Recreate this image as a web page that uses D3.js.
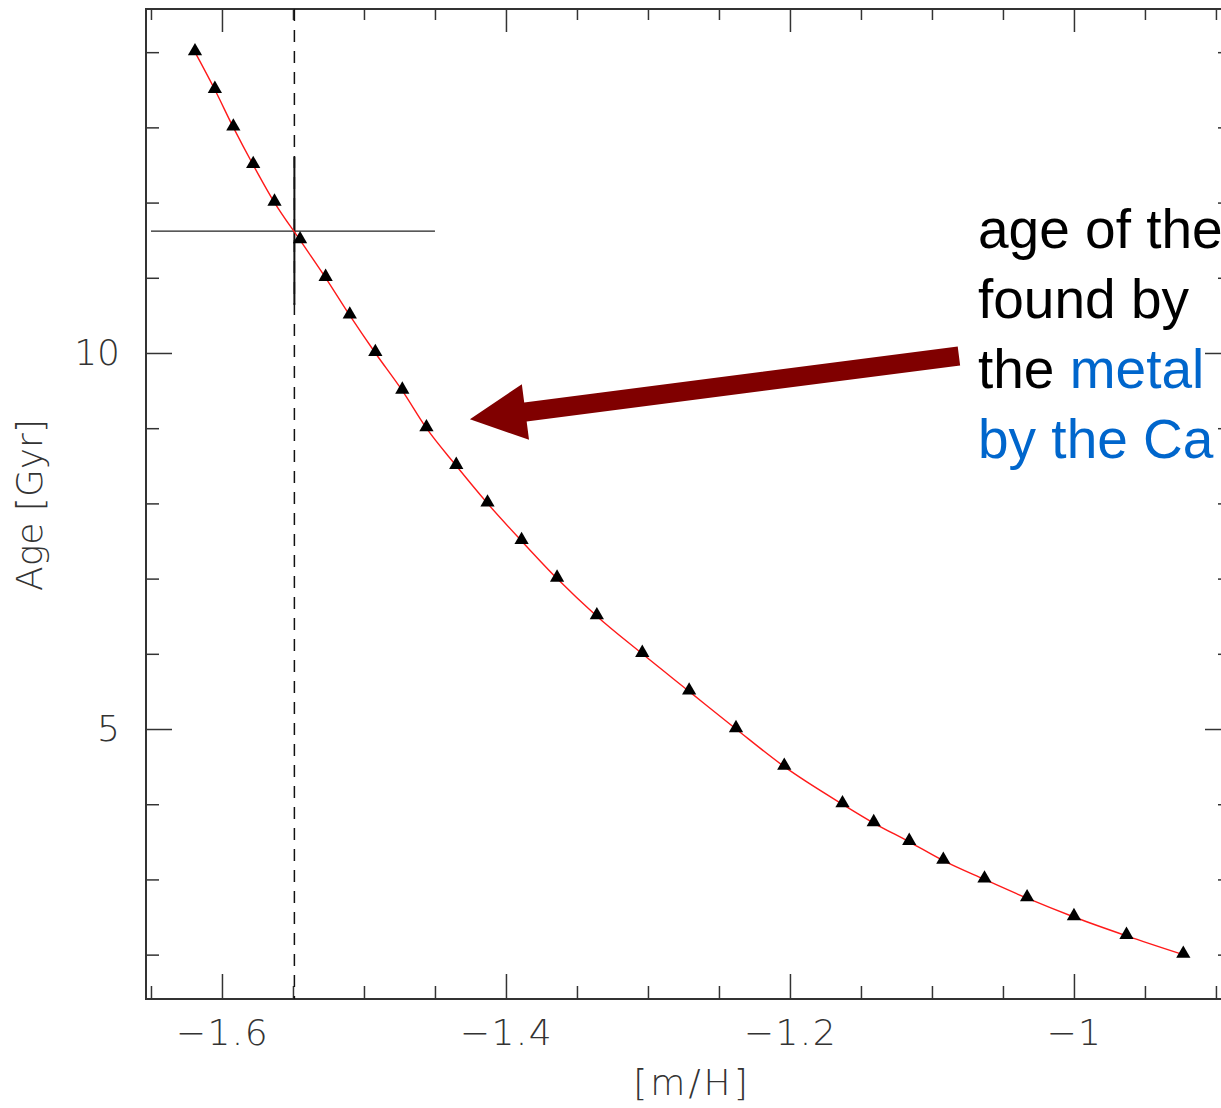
<!DOCTYPE html>
<html>
<head>
<meta charset="utf-8">
<script src="https://cdn.jsdelivr.net/npm/d3@7"></script>
<style>
  html, body { margin: 0; padding: 0; background: #fff; }
  svg { display: block; }
  .axis-text { font-family: "DejaVu Sans", sans-serif; font-weight: 200; fill: #333; }
  .note { font-family: "Liberation Sans", Arial, sans-serif; font-size: 55px; }
</style>
</head>
<body>
<div id="chart"></div>
<script>
// age grid of the isochrone fit and the matching metallicity
const AGES = [14, 13.5, 13, 12.5, 12, 11.5, 11, 10.5, 10, 9.5, 9, 8.5, 8, 7.5, 7, 6.5, 6, 5.5, 5, 4.5,
  4, 3.75, 3.5, 3.25, 3, 2.75, 2.5, 2.25, 2];
const METALLICITY = [-1.619, -1.605, -1.592, -1.578, -1.563, -1.545, -1.527, -1.51, -1.492, -1.473,
  -1.456, -1.435, -1.413, -1.389, -1.364, -1.336, -1.304, -1.271, -1.238, -1.204,
  -1.163, -1.141, -1.116, -1.092, -1.063, -1.033, -1.0, -0.963, -0.923];

const X_MAJOR = [-1.6, -1.4, -1.2, -1];
const X_MINOR = [-1.65, -1.55, -1.5, -1.45, -1.35, -1.3, -1.25, -1.15, -1.1, -1.05, -0.95, -0.9];
const Y_MAJOR = [5, 10];
const Y_MINOR = [2, 3, 4, 6, 7, 8, 9, 11, 12, 13, 14];

// metallicity measured from the CaT and the resulting age
const FIT_MH = -1.549;
const FIT_MH_RANGE = [-1.65, -1.45];
const FIT_AGE = 11.62;
const FIT_AGE_RANGE = [10.64, 12.61];

const ARROW_FROM = [-1.081, 9.96];
const ARROW_TO = [-1.4254, 9.12];

// the slide crops the note at the right edge; only the visible part is kept
const NOTE_LINES = [
  [{ text: "age of the", color: "#000" }],
  [{ text: "found by", color: "#000" }],
  [{ text: "the ", color: "#000" }, { text: "metal", color: "#0066cc" }],
  [{ text: "by the Ca", color: "#0066cc" }],
];

const WIDTH = 1221;
const HEIGHT = 1108;
const PLOT = { left: 146, top: 9, right: 1231, bottom: 999 };

const svg = d3.select("#chart").append("svg")
  .attr("width", WIDTH)
  .attr("height", HEIGHT);

const x = d3.scaleLinear().domain([-1.6535, -0.8894]).range([PLOT.left, PLOT.right]);
const y = d3.scaleLinear().domain([1.41, 14.574]).range([PLOT.bottom, PLOT.top]);

const fmt = (d) => String(d).replace("-", "\u2212");

function styleAxis(g) {
  g.select(".domain").remove();
  g.selectAll(".tick line").attr("stroke", "#333").attr("stroke-width", 1.5);
  g.selectAll(".tick text").attr("class", "axis-text").attr("font-size", 36).attr("fill", "#333");
}

// bottom
svg.append("g").attr("transform", `translate(0,${PLOT.bottom})`)
  .call(d3.axisBottom(x).tickValues(X_MINOR).tickSize(-13).tickFormat(""))
  .call(styleAxis);
svg.append("g").attr("transform", `translate(0,${PLOT.bottom})`)
  .call(d3.axisBottom(x).tickValues(X_MAJOR).tickSize(-25).tickPadding(20).tickFormat(fmt))
  .call(styleAxis)
  .call((g) => g.selectAll(".tick text").attr("letter-spacing", 1.5));
// top
svg.append("g").attr("transform", `translate(0,${PLOT.top})`)
  .call(d3.axisTop(x).tickValues(X_MINOR).tickSize(-11).tickFormat(""))
  .call(styleAxis);
svg.append("g").attr("transform", `translate(0,${PLOT.top})`)
  .call(d3.axisTop(x).tickValues(X_MAJOR).tickSize(-23).tickFormat(""))
  .call(styleAxis);
// left
svg.append("g").attr("transform", `translate(${PLOT.left},0)`)
  .call(d3.axisLeft(y).tickValues(Y_MINOR).tickSize(-13).tickFormat(""))
  .call(styleAxis);
svg.append("g").attr("transform", `translate(${PLOT.left},0)`)
  .call(d3.axisLeft(y).tickValues(Y_MAJOR).tickSize(-26).tickPadding(26).tickFormat(fmt))
  .call(styleAxis);
// right
svg.append("g").attr("transform", `translate(${PLOT.right},0)`)
  .call(d3.axisRight(y).tickValues(Y_MINOR).tickSize(-13).tickFormat(""))
  .call(styleAxis);
svg.append("g").attr("transform", `translate(${PLOT.right},0)`)
  .call(d3.axisRight(y).tickValues(Y_MAJOR).tickSize(-26).tickFormat(""))
  .call(styleAxis);

svg.append("rect")
  .attr("x", PLOT.left).attr("y", PLOT.top)
  .attr("width", PLOT.right - PLOT.left).attr("height", PLOT.bottom - PLOT.top)
  .attr("fill", "none").attr("stroke", "#333").attr("stroke-width", 2);

// axis titles
svg.append("text").attr("class", "axis-text")
  .attr("x", 692).attr("y", 1095)
  .attr("text-anchor", "middle").attr("font-size", 36).attr("letter-spacing", 3)
  .text("[m/H]");
svg.append("text").attr("class", "axis-text")
  .attr("transform", "translate(42,505) rotate(-90)")
  .attr("text-anchor", "middle").attr("font-size", 36)
  .text("Age [Gyr]");

// fitted metallicity: dashed line and crosshair
svg.append("line")
  .attr("x1", x(FIT_MH)).attr("x2", x(FIT_MH))
  .attr("y1", PLOT.top).attr("y2", PLOT.bottom)
  .attr("stroke", "#111").attr("stroke-width", 1.5).attr("stroke-dasharray", "12,9");
svg.append("line")
  .attr("x1", x(FIT_MH)).attr("x2", x(FIT_MH))
  .attr("y1", y(FIT_AGE_RANGE[1])).attr("y2", y(FIT_AGE_RANGE[0]))
  .attr("stroke", "#111").attr("stroke-width", 2);
svg.append("line")
  .attr("x1", x(FIT_MH_RANGE[0])).attr("x2", x(FIT_MH_RANGE[1]))
  .attr("y1", y(FIT_AGE)).attr("y2", y(FIT_AGE))
  .attr("stroke", "#222").attr("stroke-width", 1.3);

// relation
const points = AGES.map((age, i) => ({ age, mh: METALLICITY[i] }));
svg.append("path")
  .datum(points)
  .attr("fill", "none")
  .attr("stroke", "#ff1a1a")
  .attr("stroke-width", 1.4)
  .attr("d", d3.line().x((d) => x(d.mh)).y((d) => y(d.age)).curve(d3.curveMonotoneX));

svg.append("g")
  .selectAll("path")
  .data(points)
  .join("path")
  .attr("transform", (d) => `translate(${x(d.mh)},${y(d.age) - 1})`)
  .attr("d", d3.symbol(d3.symbolTriangle, 88))
  .attr("fill", "#000");

// arrow
const [tx, ty] = [x(ARROW_TO[0]), y(ARROW_TO[1])];
const [fx, fy] = [x(ARROW_FROM[0]), y(ARROW_FROM[1])];
const len = Math.hypot(tx - fx, ty - fy);
const ux = (tx - fx) / len, uy = (ty - fy) / len;
const px = -uy, py = ux;
const shaftHalf = 9.5, headHalf = 28, headLen = 56;
const bx = tx - ux * headLen, by = ty - uy * headLen;
const arrowPts = [
  [fx + px * shaftHalf, fy + py * shaftHalf],
  [bx + px * shaftHalf, by + py * shaftHalf],
  [bx + px * headHalf, by + py * headHalf],
  [tx, ty],
  [bx - px * headHalf, by - py * headHalf],
  [bx - px * shaftHalf, by - py * shaftHalf],
  [fx - px * shaftHalf, fy - py * shaftHalf],
];
svg.append("path")
  .attr("d", "M" + arrowPts.map((p) => p.join(",")).join("L") + "Z")
  .attr("fill", "#800000");

// annotation
const note = svg.append("text").attr("class", "note");
NOTE_LINES.forEach((line, i) => {
  line.forEach((part, j) => {
    const span = note.append("tspan").attr("fill", part.color).text(part.text);
    if (j === 0) span.attr("x", 978).attr("y", 248 + i * 70);
  });
});
</script>
</body>
</html>
